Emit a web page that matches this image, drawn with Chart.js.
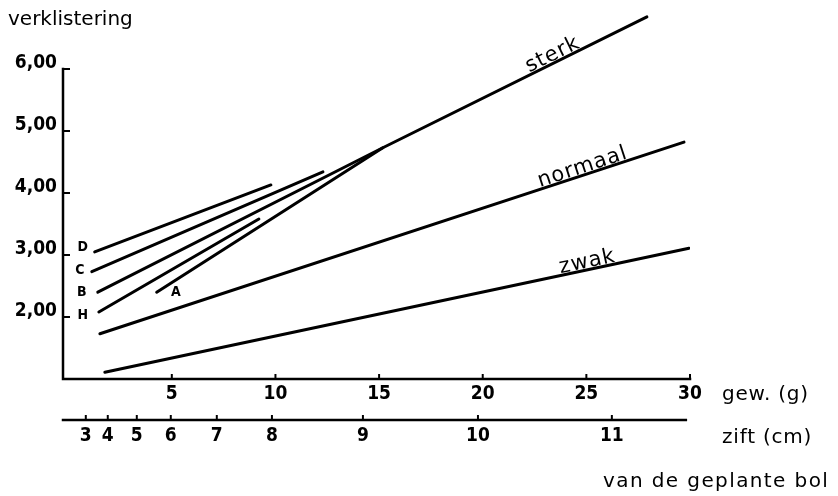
<!DOCTYPE html>
<html><head><meta charset="utf-8">
<script src="https://cdn.jsdelivr.net/npm/chart.js@4.4.0/dist/chart.umd.min.js"></script>
<style>html,body{margin:0;padding:0;background:#fff}#wrap{width:838px;height:496px}</style>
</head><body><div id="wrap"><canvas id="c" width="838" height="496"></canvas></div>
<script>
// ---- data ----
const yTickValues = [2, 3, 4, 5, 6];
const yTickLabels = ['2,00', '3,00', '4,00', '5,00', '6,00'];
const gewTickValues = [5, 10, 15, 20, 25, 30];
const ziftTickLabels = ['3', '4', '5', '6', '7', '8', '9', '10', '11'];
const ziftAtGram = [0.85, 1.91, 3.31, 4.95, 7.17, 9.83, 14.22, 19.77, 26.23];

const sterkX = [1.43, 15.18, 27.92];   const sterkY = [2.40, 4.73, 6.84];
const lineAX = [4.27, 15.18];          const lineAY = [2.40, 4.73];
const lineCX = [1.14, 12.29];          const lineCY = [2.73, 4.34];
const lineDX = [1.28, 9.78];           const lineDY = [3.05, 4.13];
const lineHX = [1.48, 9.20];           const lineHY = [2.08, 3.58];
const normaalX = [1.53, 29.71];        const normaalY = [1.73, 4.82];
const zwakX = [1.77, 29.95];           const zwakY = [1.11, 3.11];

const seriesNames = ['sterk', 'A', 'C', 'D', 'H', 'normaal', 'zwak'];
const seriesXs = [sterkX, lineAX, lineCX, lineDX, lineHX, normaalX, zwakX];
const seriesYs = [sterkY, lineAY, lineCY, lineDY, lineHY, normaalY, zwakY];

// labels on the curves (baseline-centre anchor in data units)
const curveLabels = [
  {text: 'sterk', x: 23.5, y: 6.15, series: 0},
  {text: 'normaal', x: 24.9, y: 4.33, series: 5},
  {text: 'zwak', x: 25.1, y: 2.80, series: 6}
];
const letterLabels = [
  {text: 'D', x: 0.70, y: 3.13},
  {text: 'C', x: 0.56, y: 2.76},
  {text: 'B', x: 0.66, y: 2.40},
  {text: 'H', x: 0.70, y: 2.03},
  {text: 'A', x: 5.20, y: 2.40}
];

const FONT_TICK = "'DejaVu Sans Condensed', 'DejaVu Sans', sans-serif";
const FONT_TEXT = "'DejaVu Sans', sans-serif";

const datasets = seriesNames.map((n, i) => ({
  label: n,
  data: seriesXs[i].map((x, j) => ({x: x, y: seriesYs[i][j]})),
  showLine: true,
  borderColor: '#000',
  borderWidth: 3,
  borderCapStyle: 'round',
  pointRadius: 0,
  fill: false,
  tension: 0
}));

const decor = {
  id: 'decor',
  afterDraw(chart) {
    const ctx = chart.ctx, ca = chart.chartArea;
    const sx = chart.scales.x, sy = chart.scales.y, sx2 = chart.scales.x2;
    ctx.save();
    ctx.strokeStyle = '#000';
    ctx.fillStyle = '#000';
    ctx.lineWidth = 2.5;
    ctx.lineCap = 'square';
    // y axis line + x axis line
    ctx.beginPath();
    ctx.moveTo(ca.left, sy.getPixelForValue(6));
    ctx.lineTo(ca.left, ca.bottom);
    ctx.lineTo(sx.getPixelForValue(30), ca.bottom);
    ctx.stroke();
    // x2 axis line
    ctx.beginPath();
    ctx.moveTo(ca.left, sx2.top);
    ctx.lineTo(sx.getPixelForValue(29.8), sx2.top);
    ctx.stroke();
    ctx.lineWidth = 2;
    ctx.lineCap = 'butt';
    // y ticks (inward)
    yTickValues.forEach(v => {
      const py = sy.getPixelForValue(v);
      ctx.beginPath(); ctx.moveTo(ca.left, py); ctx.lineTo(ca.left + 7, py); ctx.stroke();
    });
    // x ticks (upward)
    gewTickValues.forEach(v => {
      const px = sx.getPixelForValue(v);
      ctx.beginPath(); ctx.moveTo(px, ca.bottom); ctx.lineTo(px, ca.bottom - 5); ctx.stroke();
    });
    ziftAtGram.forEach(v => {
      const px = sx2.getPixelForValue(v);
      ctx.beginPath(); ctx.moveTo(px, sx2.top); ctx.lineTo(px, sx2.top - 5); ctx.stroke();
    });
    // texts
    ctx.font = '20px ' + FONT_TEXT;
    ctx.textAlign = 'left';
    ctx.textBaseline = 'alphabetic';
    ctx.fillText('verklistering', 8, 25);
    ctx.textBaseline = 'middle';
    ctx.letterSpacing = '0.8px';
    ctx.fillText('gew. (g)', ca.right + 32, ca.bottom + 16);
    ctx.fillText('zift (cm)', ca.right + 32, sx2.top + 18);
    ctx.letterSpacing = '1.4px';
    ctx.fillText('van de geplante bol', ca.right - 87, sx2.top + 62);
    ctx.letterSpacing = '0px';
    // letter labels
    ctx.font = 'bold 14px ' + FONT_TICK;
    ctx.textAlign = 'center';
    letterLabels.forEach(l => {
      ctx.fillText(l.text, sx.getPixelForValue(l.x), sy.getPixelForValue(l.y));
    });
    // curve labels rotated, baseline on the line
    ctx.font = '21px ' + FONT_TEXT;
    ctx.textBaseline = 'alphabetic';
    ctx.letterSpacing = '1px';
    curveLabels.forEach(l => {
      const xs = seriesXs[l.series], ys = seriesYs[l.series];
      const n = xs.length;
      const x1 = sx.getPixelForValue(xs[n - 2]), y1 = sy.getPixelForValue(ys[n - 2]);
      const x2 = sx.getPixelForValue(xs[n - 1]), y2 = sy.getPixelForValue(ys[n - 1]);
      const ang = Math.atan2(y2 - y1, x2 - x1);
      ctx.save();
      ctx.translate(sx.getPixelForValue(l.x), sy.getPixelForValue(l.y));
      ctx.rotate(ang);
      ctx.fillText(l.text, 0, 0);
      ctx.restore();
    });
    ctx.restore();
  }
};

new Chart(document.getElementById('c'), {
  type: 'scatter',
  data: {datasets: datasets},
  options: {
    responsive: false,
    animation: false,
    devicePixelRatio: 1,
    layout: {padding: {left: 0, right: 148, top: 7, bottom: 46}},
    plugins: {legend: {display: false}, tooltip: {enabled: false}, title: {display: false}},
    scales: {
      x: {
        type: 'linear', position: 'bottom', weight: 0,
        min: -0.25, max: 30,
        border: {display: false},
        grid: {display: false, drawTicks: false},
        afterBuildTicks: s => { s.ticks = gewTickValues.map(v => ({value: v})); },
        afterFit: s => { s.height = 41; s.paddingLeft = 0; s.paddingRight = 0; },
        ticks: {color: '#000', padding: 4, maxRotation: 0, autoSkip: false,
          font: {family: FONT_TICK, size: 19, weight: 'bold'},
          callback: v => String(v)}
      },
      x2: {
        type: 'linear', position: 'bottom', weight: 1,
        min: -0.25, max: 30,
        border: {display: false},
        grid: {display: false, drawTicks: false},
        afterBuildTicks: s => { s.ticks = ziftAtGram.map(v => ({value: v})); },
        afterFit: s => { s.height = 30; s.paddingLeft = 0; s.paddingRight = 0; },
        ticks: {color: '#000', padding: 5, maxRotation: 0, autoSkip: false,
          font: {family: FONT_TICK, size: 19, weight: 'bold'},
          callback: (v, i) => ziftTickLabels[i]}
      },
      y: {
        type: 'linear', position: 'left',
        min: 1, max: 7,
        border: {display: false},
        grid: {display: false, drawTicks: false},
        afterBuildTicks: s => { s.ticks = yTickValues.map(v => ({value: v})); },
        afterFit: s => { s.width = 63; s.paddingTop = 0; s.paddingBottom = 0; },
        ticks: {color: '#000', padding: 6, labelOffset: -6, autoSkip: false,
          font: {family: FONT_TICK, size: 19, weight: 'bold'},
          callback: (v, i) => yTickLabels[i]}
      }
    }
  },
  plugins: [decor]
});
</script></body></html>
